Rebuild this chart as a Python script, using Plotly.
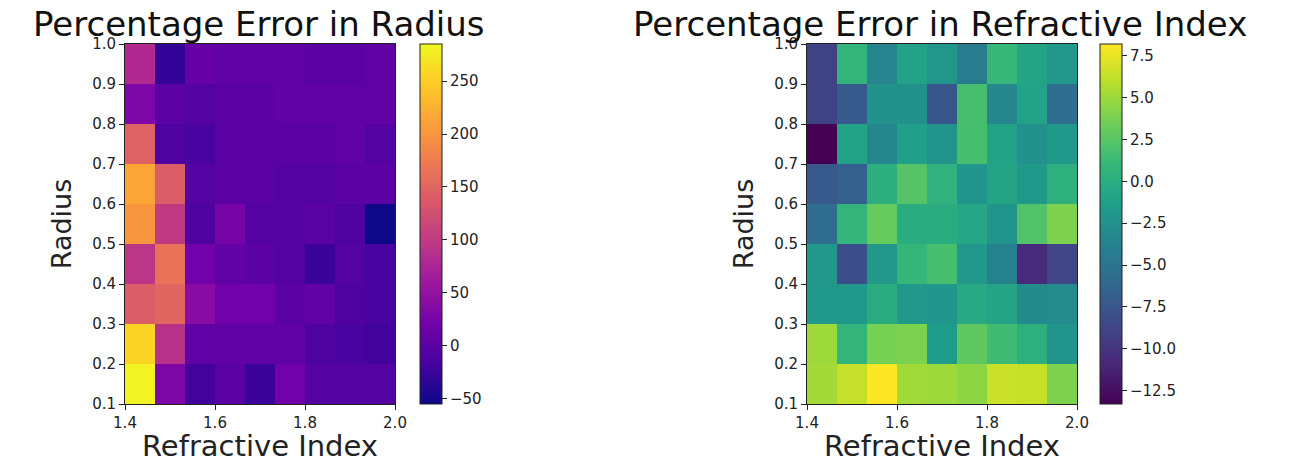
import numpy as np
import plotly.graph_objects as go

# Radius rows (bottom -> top) and refractive index columns
radius_edges = [0.1, 0.2, 0.3, 0.4, 0.5, 0.6, 0.7, 0.8, 0.9, 1.0]
ri_min, ri_max, n_cols = 1.4, 2.0, 9

# Percentage error in radius, rows from radius 0.1-0.2 (bottom) to 0.9-1.0 (top)
err_radius = [
    [280, 30, -20, 0, -25, 20, -5, -5, -5],
    [255, 90, 5, 5, 5, 5, -10, -15, -20],
    [140, 150, 40, 20, 20, 0, 5, -10, -15],
    [95, 165, 20, 5, 0, -5, -25, -5, -15],
    [200, 100, -10, 25, -5, -5, 0, -10, -55],
    [215, 140, -5, 0, 0, -5, -5, 0, 0],
    [145, -10, -15, 0, 0, 0, 0, 5, -5],
    [30, 0, -5, 0, 0, 5, 5, 5, 5],
    [80, -30, 10, 5, 5, 5, 0, 0, 5],
]

# Percentage error in refractive index
err_ri = [
    [5.2, 6.3, 8.2, 5.1, 5.0, 4.5, 6.5, 6.4, 3.9],
    [5.0, 0.7, 3.7, 3.9, -1.5, 2.8, 1.5, 0.3, -2.1],
    [-1.8, -1.8, 0.0, -1.9, -2.2, -0.4, -0.8, -3.0, -2.9],
    [-1.9, -8.1, -1.9, 0.9, 1.8, -1.9, -3.8, -10.7, -8.8],
    [-5.6, 0.7, 3.0, 0.0, 0.0, -0.6, -2.1, 2.2, 3.9],
    [-7.3, -6.8, 0.2, 2.4, 0.5, -2.1, -0.8, -1.8, 0.3],
    [-13.3, -1.0, -3.4, -1.3, -2.1, 1.8, -1.0, -2.5, -1.8],
    [-9.0, -7.3, -2.3, -2.5, -7.5, 1.8, -3.4, -1.0, -5.6],
    [-9.0, 0.7, -3.6, -1.0, -2.0, -4.3, 1.1, -0.8, -1.9],
]

x_ticks = [1.4, 1.6, 1.8, 2.0]
y_ticks = [0.1, 0.2, 0.3, 0.4, 0.5, 0.6, 0.7, 0.8, 0.9, 1.0]
ri_edges = list(np.linspace(ri_min, ri_max, n_cols + 1))

# The page body has an 8px margin: figure is placed at (8, 8)
OFF = 8
W, H = 1292 - 2 * OFF, 467 - 2 * OFF
def px_x(p): return (p - OFF) / W
def px_y(p): return 1 - (p - OFF) / H

FONT = "DejaVu Sans"
TXT = "#222222"
TICK = 15

fig = go.Figure()

cb_common = dict(
    thickness=22, thicknessmode="pixels",
    len=(404 - 44) / H, lenmode="fraction",
    y=px_y(44), yanchor="top", xanchor="left",
    outlinecolor="#222", outlinewidth=1,
    ticks="outside", ticklen=5, tickcolor="#222",
    tickfont=dict(family=FONT, size=TICK, color=TXT),
    xpad=0, ypad=0,
)

fig.add_trace(go.Heatmap(
    z=err_radius, x=ri_edges, y=radius_edges,
    colorscale="Plasma", zmin=-55, zmax=285,
    xaxis="x", yaxis="y",
    colorbar=dict(x=px_x(420), tickvals=[-50, 0, 50, 100, 150, 200, 250],
                  ticktext=["\u221250", "0", "50", "100", "150", "200", "250"], **cb_common),
))
fig.add_trace(go.Heatmap(
    z=err_ri, x=ri_edges, y=radius_edges,
    colorscale="Viridis", zmin=-13.3, zmax=8.2,
    xaxis="x2", yaxis="y2",
    colorbar=dict(x=px_x(1100),
                  tickvals=[-12.5, -10, -7.5, -5, -2.5, 0, 2.5, 5, 7.5],
                  ticktext=["\u221212.5", "\u221210.0", "\u22127.5", "\u22125.0", "\u22122.5",
                            "0.0", "2.5", "5.0", "7.5"], **cb_common),
))

ax_common = dict(
    showgrid=False, zeroline=False, showline=True, linecolor="#222", linewidth=1,
    mirror=True, ticks="outside", ticklen=5, tickcolor="#222", automargin=False,
    tickfont=dict(family=FONT, size=TICK, color=TXT),
)
xt = dict(tickvals=x_ticks, ticktext=[f"{v:.1f}" for v in x_ticks], range=[ri_min, ri_max])
yt = dict(tickvals=y_ticks, ticktext=[f"{v:.1f}" for v in y_ticks], range=[0.1, 1.0],
          title=dict(text="Radius", font=dict(family=FONT, size=27, color=TXT), standoff=12))

def ann(text, xc, yc, size, **kw):
    d = dict(text=text, x=px_x(xc), y=yc, xref="paper", yref="paper",
             xanchor="center", showarrow=False,
             font=dict(family=FONT, size=size, color="#111" if size > 30 else TXT))
    d.update(kw)
    return d

fig.update_layout(
    width=W, height=H,
    margin=dict(l=0, r=0, t=0, b=0, autoexpand=False),
    paper_bgcolor="white", plot_bgcolor="white",
    xaxis=dict(domain=[px_x(125), px_x(395)], anchor="y", **xt, **ax_common),
    yaxis=dict(domain=[px_y(404), px_y(44)], anchor="x", **yt, **ax_common),
    xaxis2=dict(domain=[px_x(807), px_x(1077)], anchor="y2", **xt, **ax_common),
    yaxis2=dict(domain=[px_y(404), px_y(44)], anchor="x2", **yt, **ax_common),
    annotations=[
        ann("Percentage Error in Radius", 259, px_y(23.5), 34, yanchor="middle"),
        ann("Percentage Error in Refractive Index", 940, px_y(23.5), 34, yanchor="middle"),
        ann("Refractive Index", 260, 0, 29, yanchor="bottom", yshift=-6),
        ann("Refractive Index", 942, 0, 29, yanchor="bottom", yshift=-6),
    ],
)

fig.write_html("out.html")
